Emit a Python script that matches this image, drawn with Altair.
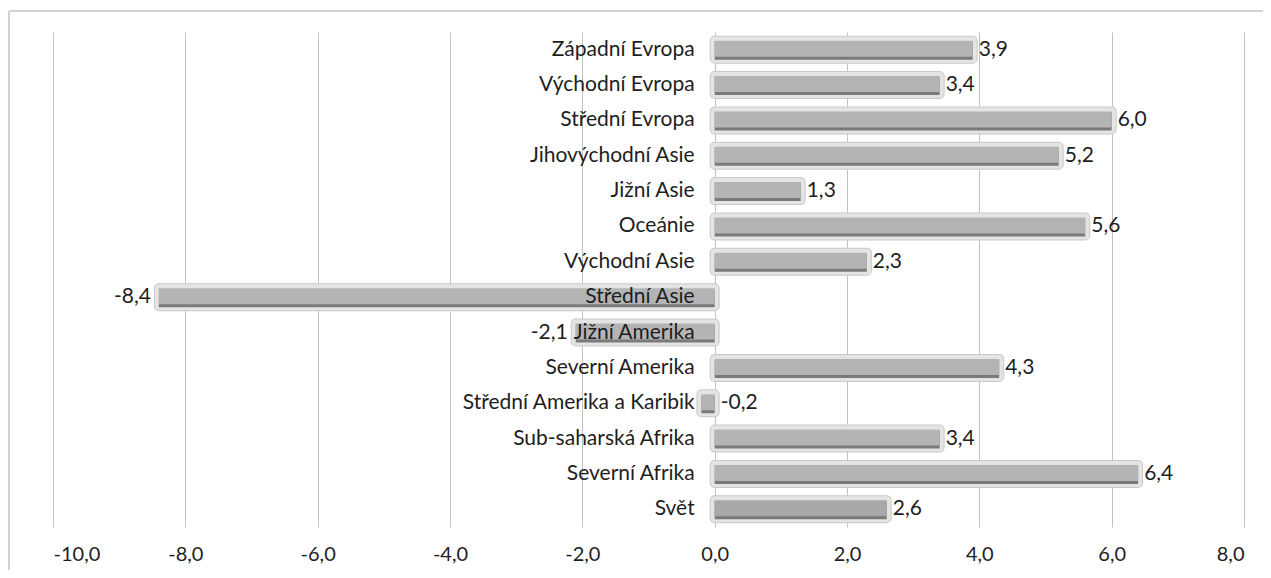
import altair as alt
import pandas as pd

categories = [
    "Západní Evropa", "Východní Evropa", "Střední Evropa", "Jihovýchodní Asie",
    "Jižní Asie", "Oceánie", "Východní Asie", "Střední Asie", "Jižní Amerika",
    "Severní Amerika", "Střední Amerika a Karibik", "Sub-saharská Afrika",
    "Severní Afrika", "Svět",
]
values = [3.9, 3.4, 6.0, 5.2, 1.3, 5.6, 2.3, -8.4, -2.1, 4.3, -0.2, 3.4, 6.4, 2.6]
x_ticks = [-10, -8, -6, -4, -2, 0, 2, 4, 6, 8]

df = pd.DataFrame({
    "cat": categories,
    "v": values,
    "lab": [f"{v:.1f}".replace(".", ",") for v in values],
    "world": [c == "Svět" for c in categories],
})

FONT = "Lato"
FS = 21
TXT = "#1e1e1e"
W, H = 1191, 495

base = alt.Chart(df)
xenc = alt.X("v:Q", scale=alt.Scale(domain=[-10, 8], nice=False),
             axis=alt.Axis(values=x_ticks, grid=True, gridColor="#c2c2c2", gridWidth=1,
                           domain=False, ticks=False, title=None,
                           labelFont=FONT, labelFontSize=20, labelColor=TXT,
                           labelPadding=17,
                           labelExpr="replace(replace(format(datum.value, '.1f'), '.', ','), '\u2212', '-')"))
yenc = alt.Y("cat:N", sort=categories, axis=None,
             scale=alt.Scale(paddingInner=0, paddingOuter=0))

outline = base.mark_bar(size=18, fill="#c9c9c9", stroke="#c9c9c9", strokeWidth=10,
                        strokeJoin="round").encode(x=xenc, x2=alt.datum(0), y=yenc)
halo = base.mark_bar(size=18, fill="#e4e4e4", stroke="#e4e4e4", strokeWidth=8,
                     strokeJoin="round").encode(x=xenc, x2=alt.datum(0), y=yenc)
shadow = base.mark_bar(size=18, yOffset=1, fill="#7a7a7a").encode(x=xenc, x2=alt.datum(0), y=yenc)
main = base.mark_bar(size=16, yOffset=-1).encode(
    x=xenc, x2=alt.datum(0), y=yenc,
    color=alt.condition("datum.world", alt.value("#a8a8a8"), alt.value("#b4b4b4")),
)

cat_text = base.mark_text(align="right", baseline="middle", dx=-20, font=FONT,
                          fontSize=FS, color=TXT).encode(
    x=alt.datum(0), y=yenc, text="cat:N")

neg_text = base.transform_filter("datum.v < -1").mark_text(
    align="right", baseline="middle", dx=-8, font=FONT, fontSize=FS, color=TXT
).encode(x=xenc, y=yenc, text="lab:N")

pos_text = base.transform_filter("datum.v >= -1").transform_calculate(
    px="max(datum.v, 0)").mark_text(
    align="left", baseline="middle", dx=6, font=FONT, fontSize=FS, color=TXT
).encode(x=alt.X("px:Q"), y=yenc, text="lab:N")

one = alt.Chart(pd.DataFrame({"a": [0]}))
border_top = one.mark_rule(color="#d2d2d2", strokeWidth=2).encode(
    x=alt.value(-44), x2=alt.value(W + 19), y=alt.value(-21))
border_left = one.mark_rule(color="#d2d2d2", strokeWidth=2).encode(
    x=alt.value(-44), y=alt.value(-21), y2=alt.value(H + 43))

chart = alt.layer(
    outline, halo, shadow, main, cat_text, neg_text, pos_text, border_top, border_left
).properties(
    width=W, height=H,
    autosize=alt.AutoSizeParams(type="none"),
    padding={"left": 45, "top": 24, "right": 19, "bottom": 43},
).configure(background="white", view=alt.ViewConfig(strokeWidth=0))

chart.save("out.html", embed_options={"renderer": "svg", "actions": False})
